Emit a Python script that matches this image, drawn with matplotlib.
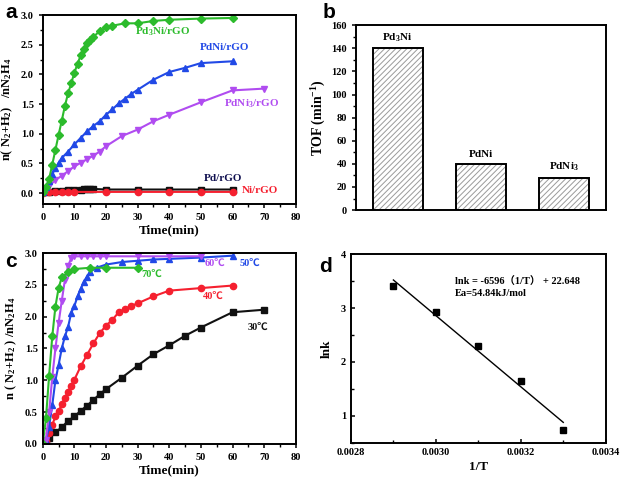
import numpy as np
import matplotlib.pyplot as plt
from matplotlib.ticker import MultipleLocator

plt.rcParams['font.family'] = ['Liberation Serif', 'Noto Sans CJK SC']
plt.rcParams['font.weight'] = 'bold'
plt.rcParams['mathtext.default'] = 'regular'
plt.rcParams['hatch.linewidth'] = 0.7

# ---- panel a data ----
t_pd3ni = [0, 1, 2, 3, 4, 5, 6, 7, 8, 9, 10, 11, 12, 13, 14, 15, 16, 18, 20, 22, 26, 30, 35, 40, 50, 60]
v_pd3ni = [0.02, 0.1, 0.24, 0.48, 0.73, 0.98, 1.22, 1.47, 1.68, 1.85, 2.03, 2.18, 2.32, 2.43, 2.52,
           2.58, 2.63, 2.73, 2.79, 2.82, 2.86, 2.86, 2.90, 2.92, 2.94, 2.95]
t_pdni = [0, 1, 2, 3, 4, 5, 6, 8, 10, 12, 14, 16, 18, 20, 22, 24, 26, 28, 30, 35, 40, 45, 50, 60]
v_pdni = [0.02, 0.1, 0.2, 0.32, 0.42, 0.51, 0.59, 0.7, 0.82, 0.93, 1.04, 1.13, 1.21, 1.32, 1.41,
          1.51, 1.59, 1.67, 1.74, 1.91, 2.04, 2.11, 2.19, 2.22]
t_pdni3 = [0, 1, 2, 4, 6, 8, 10, 12, 14, 16, 18, 20, 25, 30, 35, 40, 50, 60, 70]
v_pdni3 = [0.02, 0.06, 0.12, 0.22, 0.29, 0.37, 0.45, 0.51, 0.57, 0.63, 0.70, 0.79, 0.96, 1.07,
           1.21, 1.32, 1.53, 1.73, 1.76]
t_pd = [0, 2, 4, 6, 8, 10, 12, 13, 14, 15, 16, 20, 30, 40, 50, 60]
v_pd = [0.01, 0.02, 0.03, 0.04, 0.05, 0.05, 0.06, 0.07, 0.07, 0.07, 0.07, 0.06, 0.06, 0.06, 0.06, 0.06]
t_ni = [0, 2, 4, 6, 8, 10, 20, 30, 40, 50, 60]
v_ni = [0.0, 0.02, 0.02, 0.02, 0.02, 0.02, 0.02, 0.02, 0.02, 0.02, 0.02]

# ---- panel b data ----
catalysts = ['Pd$_3$Ni', 'PdNi', 'PdNi$_3$']
tof = [140, 40, 28]

# ---- panel c data ----
t_30 = [1, 2, 4, 6, 8, 10, 12, 14, 16, 18, 20, 25, 30, 35, 40, 45, 50, 60, 70]
v_30 = [0.05, 0.09, 0.18, 0.26, 0.36, 0.43, 0.52, 0.60, 0.69, 0.78, 0.86, 1.04, 1.23, 1.41,
        1.55, 1.70, 1.83, 2.07, 2.11]
t_40 = [1, 2, 3, 4, 5, 6, 7, 8, 9, 10, 12, 14, 16, 18, 20, 22, 24, 26, 28, 30, 35, 40, 50, 60]
v_40 = [0.05, 0.17, 0.30, 0.43, 0.51, 0.62, 0.72, 0.82, 0.91, 1.01, 1.22, 1.40, 1.58, 1.74,
        1.86, 1.95, 2.07, 2.12, 2.17, 2.21, 2.32, 2.41, 2.45, 2.49]
t_50 = [1, 2, 3, 4, 5, 6, 7, 8, 9, 10, 11, 12, 13, 14, 15, 17, 20, 25, 30, 35, 40, 50, 60]
v_50 = [0.05, 0.27, 0.61, 1.0, 1.24, 1.50, 1.69, 1.84, 2.06, 2.17, 2.32, 2.44, 2.55, 2.63, 2.71,
        2.77, 2.82, 2.86, 2.88, 2.90, 2.91, 2.93, 2.96]
t_60 = [1, 2, 3, 4, 5, 6, 7, 8, 9, 10, 12, 14, 16, 18, 20, 30, 40, 50]
v_60 = [0.06, 0.5, 1.05, 1.5, 1.9, 2.25, 2.58, 2.8, 2.92, 2.95, 2.95, 2.95, 2.95, 2.95, 2.95,
        2.95, 2.95, 2.95]
t_70 = [0, 1, 2, 3, 4, 5, 6, 8, 10, 15, 20, 30]
v_70 = [0.0, 0.40, 1.07, 1.69, 2.16, 2.45, 2.62, 2.70, 2.75, 2.77, 2.77, 2.77]

# ---- panel d data ----
inv_t = [0.0029, 0.0030, 0.0031, 0.0032, 0.0033]
lnk = [3.40, 2.93, 2.30, 1.65, 0.73]
fit_x = [0.0029, 0.0033]
fit_y = [3.52, 0.88]

green = '#2cbb2c'
blue = '#2149e6'
violet = '#b04cf0'
red = '#f5202f'
black = '#111111'

fig = plt.figure(figsize=(6.2, 4.84), dpi=100)
ax_a = fig.add_axes([0.069, 0.579, 0.408, 0.390])
ax_b = fig.add_axes([0.574, 0.566, 0.403, 0.382])
ax_c = fig.add_axes([0.069, 0.083, 0.408, 0.394])
ax_d = fig.add_axes([0.566, 0.085, 0.411, 0.390])

for ax in (ax_a, ax_b, ax_c, ax_d):
    for s in ax.spines.values():
        s.set_linewidth(1.4)
    ax.tick_params(labelsize=7.5, width=1.1, length=3)
    ax.tick_params(which='minor', width=1.0, length=2)

lw = 1.5
ms = 4.5

# panel a
ax_a.plot(t_pd, v_pd, '-s', color=black, lw=lw, ms=ms - 0.5)
ax_a.plot(t_ni, v_ni, '-o', color=red, lw=lw, ms=ms)
ax_a.plot(t_pdni3, v_pdni3, '-v', color=violet, lw=lw, ms=ms + 0.5)
ax_a.plot(t_pdni, v_pdni, '-^', color=blue, lw=lw, ms=ms + 0.5)
ax_a.plot(t_pd3ni, v_pd3ni, '-D', color=green, lw=lw, ms=ms - 0.5)
ax_a.set_xlim(0, 80)
ax_a.set_ylim(-0.18, 3.0)
ax_a.xaxis.set_major_locator(MultipleLocator(10))
ax_a.xaxis.set_minor_locator(MultipleLocator(5))
ax_a.yaxis.set_major_locator(MultipleLocator(0.5))
ax_a.yaxis.set_minor_locator(MultipleLocator(0.25))
ax_a.set_yticks(ax_a.get_yticks())
ax_a.set_yticklabels([f'{v:.1f}' for v in ax_a.get_yticks()])
ax_a.set_ylim(-0.18, 3.0)
ax_a.set_xlabel('Time(min)', fontsize=9.5, fontweight='bold', labelpad=2)
ax_a.set_ylabel('n( N$_2$+H$_2$)   /nN$_2$H$_4$', fontsize=9, fontweight='bold', labelpad=4)
ax_a.text(38, 2.72, 'Pd$_3$Ni/rGO', color=green, fontsize=8, ha='center', va='center')
ax_a.text(57.6, 2.45, 'PdNi/rGO', color=blue, fontsize=8, ha='center', va='center')
ax_a.text(66, 1.51, 'PdNi$_3$/rGO', color=violet, fontsize=8, ha='center', va='center')
ax_a.text(57, 0.24, 'Pd/rGO', color='#101050', fontsize=8, ha='center', va='center')
ax_a.text(68.6, 0.04, 'Ni/rGO', color=red, fontsize=8, ha='center', va='center')

# panel b
xb = np.arange(1, len(tof) + 1)
ax_b.bar(xb, tof, width=0.6, color='white', edgecolor='#9a9a9a', linewidth=0, hatch='//////')
ax_b.bar(xb, tof, width=0.6, fill=False, edgecolor='black', linewidth=1.4)
ax_b.set_xlim(0.5, 3.5)
ax_b.set_ylim(0, 160)
ax_b.set_xticks([])
ax_b.yaxis.set_major_locator(MultipleLocator(20))
ax_b.yaxis.set_minor_locator(MultipleLocator(10))
ax_b.set_ylabel('TOF (min$^{-1}$)', fontsize=10, fontweight='bold', labelpad=2)
for x, v, name in zip(xb, tof, catalysts):
    ax_b.text(x, v + 4, name, fontsize=8, ha='center', va='bottom')

# panel c
ax_c.plot(t_30, v_30, '-s', color=black, lw=lw, ms=ms - 0.5)
ax_c.plot(t_40, v_40, '-o', color=red, lw=lw, ms=ms)
ax_c.plot(t_50, v_50, '-^', color=blue, lw=lw, ms=ms + 0.5)
ax_c.plot(t_60, v_60, '-v', color=violet, lw=lw, ms=ms + 0.5)
ax_c.plot(t_70, v_70, '-D', color=green, lw=lw, ms=ms - 0.5)
ax_c.set_xlim(0, 80)
ax_c.set_ylim(0, 3.0)
ax_c.xaxis.set_major_locator(MultipleLocator(10))
ax_c.xaxis.set_minor_locator(MultipleLocator(5))
ax_c.yaxis.set_major_locator(MultipleLocator(0.5))
ax_c.yaxis.set_minor_locator(MultipleLocator(0.25))
ax_c.tick_params(axis='y', which='both', direction='in')
ax_c.set_yticks(ax_c.get_yticks())
ax_c.set_yticklabels([f'{v:.1f}' for v in ax_c.get_yticks()])
ax_c.set_ylim(0, 3.0)
ax_c.set_xlabel('Time(min)', fontsize=9.5, fontweight='bold', labelpad=2)
ax_c.set_ylabel('n ( N$_2$+H$_2$ ) /nN$_2$H$_4$', fontsize=9, fontweight='bold', labelpad=4)
ax_c.text(54.4, 2.84, '60℃', color=violet, fontsize=7.5, ha='center', va='center')
ax_c.text(65.5, 2.84, '50℃', color=blue, fontsize=7.5, ha='center', va='center')
ax_c.text(34.4, 2.67, '70℃', color=green, fontsize=7.5, ha='center', va='center')
ax_c.text(53.9, 2.32, '40℃', color=red, fontsize=7.5, ha='center', va='center')
ax_c.text(68.1, 1.84, '30℃', color=black, fontsize=7.5, ha='center', va='center')

# panel d
ax_d.plot(fit_x, fit_y, '-', color='black', lw=1.0)
ax_d.plot(inv_t, lnk, 's', color='black', ms=5)
ax_d.set_xlim(0.0028, 0.0034)
ax_d.set_ylim(0.5, 4)
ax_d.xaxis.set_major_locator(MultipleLocator(0.0002))
ax_d.xaxis.set_minor_locator(MultipleLocator(0.0001))
ax_d.yaxis.set_major_locator(MultipleLocator(1))
ax_d.yaxis.set_minor_locator(MultipleLocator(0.5))
ax_d.tick_params(which='both', direction='in')
ax_d.xaxis.set_major_formatter(lambda v, p: f'{v:.4f}')
ax_d.yaxis.set_major_formatter(lambda v, p: f'{v:g}')
ax_d.set_xlabel('1/T', fontsize=9.5, fontweight='bold', labelpad=3)
ax_d.set_ylabel('lnk', fontsize=9.5, fontweight='bold', labelpad=6)
ax_d.text(0.003045, 3.49, 'lnk = -6596（1/T） + 22.648', fontsize=7.5, va='center')
ax_d.text(0.003045, 3.27, 'Ea=54.84kJ/mol', fontsize=7.5, va='center')

# panel letters
for x, y, s in [(0.008, 0.975, 'a'), (0.52, 0.975, 'b'), (0.008, 0.46, 'c'), (0.515, 0.45, 'd')]:
    fig.text(x, y, s, fontsize=15, fontweight='bold', family='Liberation Sans', va='center')

fig.savefig('out.png', dpi=100)
